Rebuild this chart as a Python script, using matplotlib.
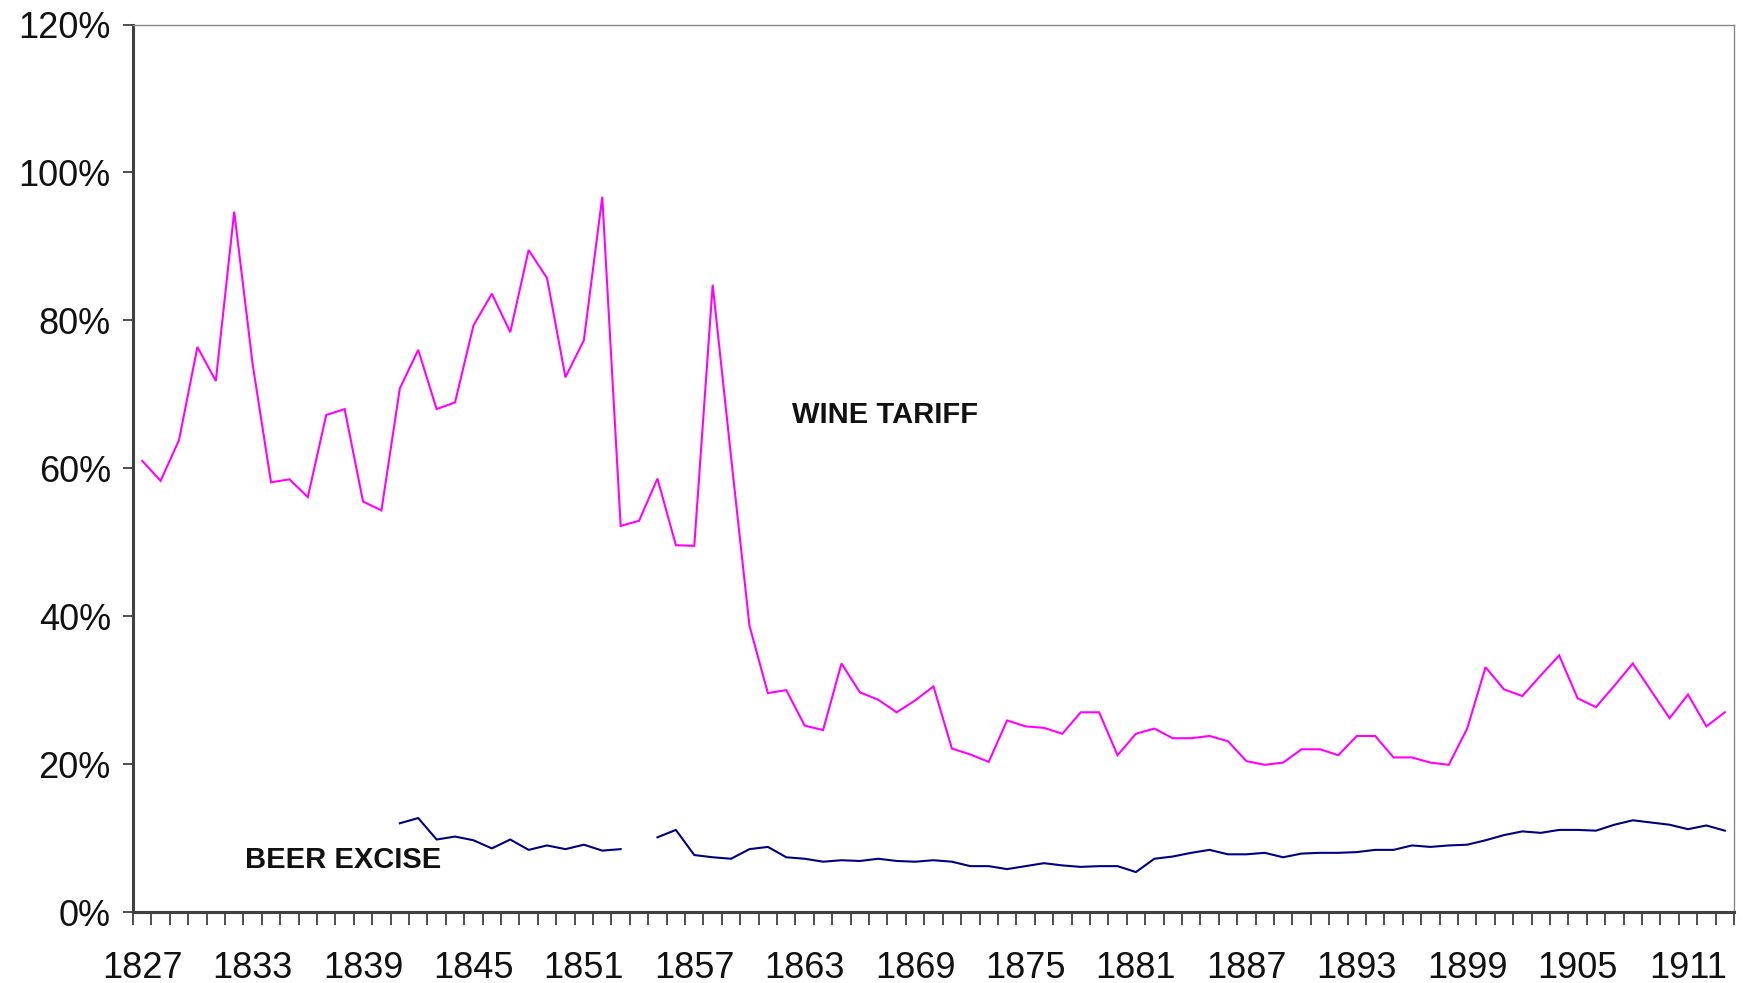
import numpy as np
import matplotlib
matplotlib.use("Agg")
import matplotlib.pyplot as plt

years = list(range(1827, 1914))

wine_tariff = [
    61.0, 58.3, 63.8, 76.4, 71.8, 94.7, 74.1, 58.1, 58.5, 56.1,   # 1827-1836
    67.2, 68.0, 55.5, 54.3, 70.8, 76.0, 68.0, 68.9, 79.3, 83.6,   # 1837-1846
    78.4, 89.5, 85.7, 72.3, 77.3, 96.7, 52.2, 52.9, 58.6, 49.6,   # 1847-1856
    49.5, 84.8, 61.5, 38.7, 29.6, 30.0, 25.2, 24.6, 33.6, 29.7,   # 1857-1866
    28.7, 27.0, 28.6, 30.5, 22.1, 21.3, 20.3, 25.9, 25.1, 24.9,   # 1867-1876
    24.1, 27.0, 27.0, 21.2, 24.1, 24.8, 23.5, 23.5, 23.8, 23.1,   # 1877-1886
    20.4, 19.9, 20.2, 22.0, 22.0, 21.2, 23.8, 23.8, 20.9, 20.9,   # 1887-1896
    20.2, 19.9, 24.8, 33.1, 30.1, 29.2, 32.0, 34.7, 28.9, 27.7,   # 1897-1906
    30.6, 33.6, 29.9, 26.2, 29.4, 25.1, 27.0,                     # 1907-1913
]

nan = float("nan")
beer_excise = [
    nan, nan, nan, nan, nan, nan, nan, nan, nan, nan,             # 1827-1836
    nan, nan, nan, nan, 12.0, 12.7, 9.8, 10.2, 9.7, 8.6,          # 1837-1846
    9.8, 8.4, 9.0, 8.5, 9.1, 8.3, 8.5, nan, 10.1, 11.1,           # 1847-1856
    7.7, 7.4, 7.2, 8.5, 8.8, 7.4, 7.2, 6.8, 7.0, 6.9,             # 1857-1866
    7.2, 6.9, 6.8, 7.0, 6.8, 6.2, 6.2, 5.8, 6.2, 6.6,             # 1867-1876
    6.3, 6.1, 6.2, 6.2, 5.4, 7.2, 7.5, 8.0, 8.4, 7.8,             # 1877-1886
    7.8, 8.0, 7.4, 7.9, 8.0, 8.0, 8.1, 8.4, 8.4, 9.0,             # 1887-1896
    8.8, 9.0, 9.1, 9.7, 10.4, 10.9, 10.7, 11.1, 11.1, 11.0,       # 1897-1906
    11.8, 12.4, 12.1, 11.8, 11.2, 11.7, 11.0,                     # 1907-1913
]

label_years = list(range(1827, 1914, 6))
y_ticks = [0, 20, 40, 60, 80, 100, 120]

plt.rcParams['font.family'] = ['Liberation Sans', 'DejaVu Sans']

W, H = 1744, 983
fig = plt.figure(figsize=(W / 100, H / 100), dpi=100)
left, right, top, bottom = 133, 1734, 24.5, 912
ax = fig.add_axes([left / W, 1 - bottom / H, (right - left) / W, (bottom - top) / H])

ax.plot(years, wine_tariff, color='#FF00FF', lw=1.5, solid_joinstyle='miter')
ax.plot(years, beer_excise, color='#000080', lw=1.5)

ax.set_xlim(years[0] - 0.5, years[-1] + 0.5)
ax.set_ylim(0, 120)

# y axis
ax.set_yticks(y_ticks)
ax.set_yticklabels([f"{v}%" for v in y_ticks], fontsize=26, color='#111111')
ax.tick_params(axis='y', direction='out', length=7, width=1.3, color='#404040', pad=9)

# x axis: ticks between categories, labels every 6 years
ax.set_xticks(np.arange(years[0] - 0.5, years[-1] + 1.0, 1.0))
ax.set_xticklabels([])
ax.tick_params(axis='x', which='major', direction='out', length=9.5, width=1.3, color='#404040')
ax.set_xticks(label_years, minor=True)
ax.set_xticklabels([str(y) for y in label_years], minor=True, fontsize=26, color='#111111')
ax.tick_params(axis='x', which='minor', length=0, pad=28)

for side in ['left', 'bottom']:
    ax.spines[side].set_color('#404040')
    ax.spines[side].set_linewidth(2.2)
for side in ['top', 'right']:
    ax.spines[side].set_color('#888888')
    ax.spines[side].set_linewidth(1.0)

ax.text(1862.3, 67.2, "WINE TARIFF", fontsize=21, fontweight='bold',
        ha='left', va='center', color='#111111')
ax.text(1832.6, 7.0, "BEER EXCISE", fontsize=21, fontweight='bold',
        ha='left', va='center', color='#111111')

fig.savefig("out.png", dpi=100, facecolor='white')
